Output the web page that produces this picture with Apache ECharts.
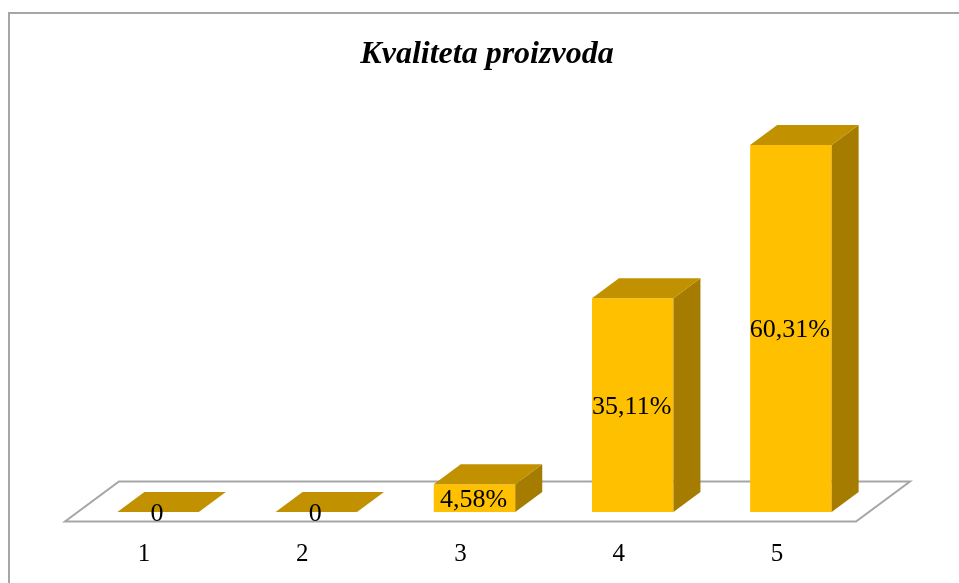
<!DOCTYPE html>
<html><head><meta charset="utf-8">
<script src="https://cdn.jsdelivr.net/npm/echarts@6/dist/echarts.min.js"></script>
<style>html,body{margin:0;padding:0;background:#fff}#c{width:959px;height:583px}</style>
</head><body><div id="c"></div>
<script>
const titleText = 'Kvaliteta proizvoda';
const categories = ['1', '2', '3', '4', '5'];
const values = [0, 0, 4.58, 35.11, 60.31];
const valueLabels = ['0', '0', '4,58%', '35,11%', '60,31%'];

const FONT = "'Liberation Serif','Times New Roman',serif";
const FRONT = '#FFC000', TOP = '#C29100', SIDE = '#A67C00', EDGE = '#A6A6A6';
const DX = 27, DY = 20;

const chart = echarts.init(document.getElementById('c'), null, {renderer: 'canvas'});

function renderFloor(params, api) {
  const cs = params.coordSys;
  const fy = cs.y + cs.height + 9.5;
  const fx0 = cs.x - 14, fx1 = cs.x + cs.width - 14;
  return {
    type: 'polygon',
    shape: {points: [[fx0, fy], [fx1, fy], [fx1 + 2 * DX, fy - 2 * DY], [fx0 + 2 * DX, fy - 2 * DY]]},
    style: {fill: '#fff', stroke: EDGE, lineWidth: 2},
    z2: 0
  };
}

function renderBar(params, api) {
  const i = api.value(0), v = api.value(1);
  const band = api.size([1, 0])[0];
  const w = band * 0.515;
  const c0 = api.coord([i, 0]);
  const c1 = api.coord([i, v]);
  const x0 = c0[0] - w / 2, x1 = c0[0] + w / 2;
  const yb = c0[1], yt = c1[1];
  const children = [];
  if (yb - yt > 0.5) {
    children.push({type: 'rect', shape: {x: x0, y: yt, width: w, height: yb - yt}, style: {fill: FRONT}});
    children.push({type: 'polygon', shape: {points: [[x1, yb], [x1 + DX, yb - DY], [x1 + DX, yt - DY], [x1, yt]]}, style: {fill: SIDE}});
  }
  children.push({type: 'polygon', shape: {points: [[x0, yt], [x0 + DX, yt - DY], [x1 + DX, yt - DY], [x1, yt]]}, style: {fill: TOP}});
  children.push({
    type: 'text', z2: 10,
    style: {text: valueLabels[params.dataIndex], x: c0[0] - 1, y: (yt + yb) / 2 + 2, align: 'center', verticalAlign: 'middle',
      fontFamily: FONT, fontSize: 26, fill: '#000'}
  });
  return {type: 'group', children};
}

chart.setOption({
  animation: false,
  backgroundColor: '#fff',
  title: {
    text: titleText, left: 482, top: 34, textAlign: 'center',
    textStyle: {fontFamily: FONT, fontSize: 32, fontWeight: 'bold', fontStyle: 'italic', color: '#000'}
  },
  graphic: [{
    type: 'polyline', z: 100,
    shape: {points: [[9, 583], [9, 13], [959, 13]]},
    style: {stroke: EDGE, lineWidth: 2, fill: null}
  }],
  grid: {left: 79, right: 89, top: 86, bottom: 71},
  xAxis: {
    type: 'category', data: categories,
    axisLine: {show: false}, axisTick: {show: false}, splitLine: {show: false},
    axisLabel: {interval: 0, margin: 30, padding: [0, 28, 0, 0], fontFamily: FONT, fontSize: 25, color: '#000'}
  },
  yAxis: {type: 'value', min: 0, max: 70, show: false, splitLine: {show: false}},
  series: [
    {type: 'custom', z: 1, silent: true, data: [[0, 0]], renderItem: renderFloor},
    {type: 'custom', z: 2, data: values.map((v, i) => [i, v]), renderItem: renderBar}
  ]
});
</script></body></html>
